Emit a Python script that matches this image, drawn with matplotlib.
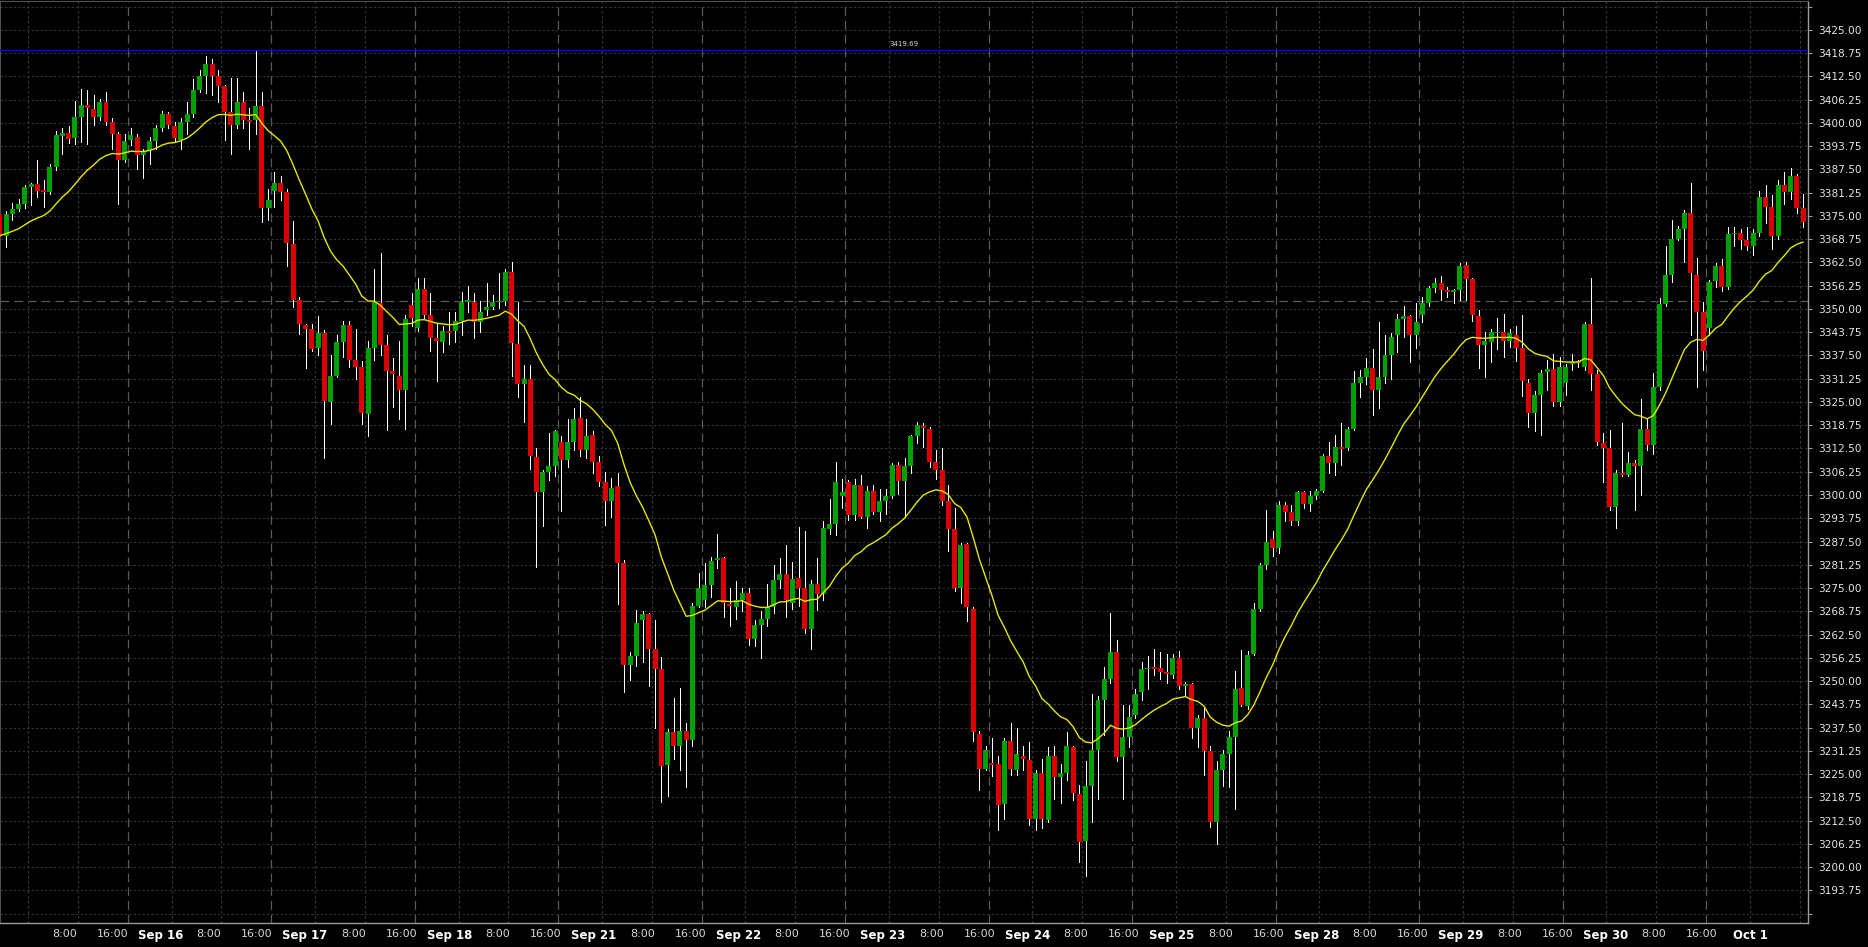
import matplotlib
matplotlib.use("Agg")
import matplotlib.pyplot as plt
import matplotlib.transforms as mtransforms
import numpy as np
import pandas as pd

# hourly bars, one session = 23 bars; first bar is the half-visible one at the left edge
opens = [
    3375.5, 3369.7, 3375.6, 3376.8, 3378.1, 3382.7, 3383.6, 3381.9, 3381.3, 3388.0,
    3396.5, 3397.2, 3396.0, 3401.7, 3404.7, 3403.7, 3401.7, 3405.6, 3400.2, 3397.1,
    3390.1, 3395.5, 3396.3, 3391.4, 3392.5, 3395.1, 3398.6, 3402.5, 3399.1, 3395.5,
    3400.2, 3402.5, 3408.7, 3412.6, 3415.7, 3412.6, 3409.8, 3402.8, 3399.4, 3405.6,
    3400.8, 3400.7, 3404.4, 3377.0, 3381.7, 3383.8, 3381.3, 3367.4, 3352.5, 3345.6,
    3344.5, 3339.5, 3343.4, 3324.9, 3332.0, 3341.1, 3345.6, 3336.3, 3334.4, 3321.8,
    3339.5, 3351.5, 3340.2, 3333.4, 3332.1, 3328.2, 3351.0, 3344.9, 3355.3, 3348.4,
    3342.2, 3341.1, 3344.0, 3344.0, 3346.8, 3351.9, 3351.9, 3346.5, 3349.6, 3350.4,
    3351.8, 3352.1, 3359.9, 3340.6, 3329.8, 3331.3, 3310.2, 3300.9, 3306.1, 3307.7,
    3314.3, 3309.4, 3314.3, 3320.8, 3312.0, 3316.2, 3308.9, 3303.5, 3298.4, 3302.3,
    3281.8, 3254.3, 3256.8, 3266.4, 3267.9, 3258.6, 3253.2, 3227.4, 3236.2, 3232.6,
    3236.5, 3234.3, 3270.2, 3271.8, 3275.7, 3282.5, 3283.1, 3270.7, 3270.0, 3271.8,
    3273.8, 3261.4, 3265.1, 3266.7, 3269.8, 3277.2, 3278.7, 3271.0, 3277.8, 3274.9,
    3264.0, 3276.0, 3273.3, 3290.8, 3292.2, 3299.6, 3303.5, 3294.7, 3302.7, 3294.2,
    3301.2, 3295.5, 3298.5, 3299.6, 3308.1, 3303.8, 3307.8, 3315.9, 3318.5, 3317.7,
    3308.9, 3306.6, 3298.5, 3290.8, 3274.9, 3286.8, 3269.5, 3235.9, 3226.5, 3228.0,
    3227.7, 3216.9, 3233.9, 3226.2, 3230.0, 3228.9, 3213.0, 3225.4, 3212.7, 3230.0,
    3224.3, 3225.4, 3232.3, 3219.7, 3207.1, 3221.8, 3231.6, 3245.0, 3250.6, 3257.9,
    3229.5, 3235.1, 3241.0, 3247.0, 3253.2, 3253.9, 3253.6, 3252.4, 3251.7, 3256.3,
    3248.6, 3249.1, 3237.3, 3240.1, 3231.1, 3212.2, 3226.2, 3230.5, 3235.1, 3248.1,
    3243.2, 3257.4, 3269.5, 3281.1, 3288.3, 3285.7, 3297.3, 3295.5, 3293.0, 3300.7,
    3297.6, 3299.6, 3301.2, 3310.5, 3308.5, 3312.8, 3312.5, 3317.7, 3330.1, 3331.8,
    3334.0, 3328.2, 3331.7, 3337.5, 3342.9, 3347.3, 3348.0, 3342.9, 3348.4, 3351.5,
    3355.6, 3356.9, 3355.0, 3354.5, 3355.0, 3361.8, 3358.0, 3348.0, 3340.3, 3341.1,
    3343.4, 3343.7, 3341.4, 3343.0, 3339.5, 3330.1, 3322.1, 3327.0, 3333.1, 3333.8,
    3324.9, 3330.1, 3335.2, 3336.0, 3334.4, 3346.0, 3332.6, 3314.0, 3312.5, 3296.8,
    3305.8, 3305.4, 3308.5, 3307.7, 3317.7, 3313.5, 3329.0, 3351.2, 3359.2, 3368.8,
    3371.6, 3375.9, 3359.2, 3349.1, 3344.9, 3357.6, 3361.5, 3355.8, 3370.0, 3370.5,
    3368.5, 3366.9, 3370.5, 3380.1, 3377.4, 3369.7, 3383.2, 3381.3, 3385.8, 3377.0,
]
highs = [
    3376.5, 3376.2, 3378.5, 3379.6, 3383.2, 3383.9, 3390.1, 3384.7, 3388.9, 3397.9,
    3398.6, 3399.1, 3405.9, 3409.0, 3408.7, 3407.5, 3406.4, 3408.2, 3401.3, 3397.6,
    3397.1, 3398.6, 3397.1, 3393.1, 3396.3, 3399.4, 3403.3, 3402.8, 3400.2, 3401.3,
    3405.6, 3411.8, 3414.1, 3418.0, 3417.2, 3414.1, 3410.2, 3412.1, 3412.1, 3408.4,
    3404.1, 3419.5, 3408.2, 3382.3, 3386.8, 3385.6, 3382.3, 3373.6, 3353.3, 3346.0,
    3346.0, 3348.1, 3344.3, 3337.5, 3342.9, 3346.8, 3346.8, 3344.5, 3336.0, 3341.4,
    3360.8, 3365.1, 3342.9, 3336.8, 3341.4, 3348.4, 3354.2, 3358.4, 3358.4, 3354.2,
    3346.0, 3345.3, 3349.1, 3349.1, 3354.5, 3356.1, 3354.2, 3352.2, 3356.9, 3353.8,
    3359.6, 3360.7, 3362.6, 3351.8, 3334.9, 3334.9, 3312.5, 3306.6, 3316.6, 3317.4,
    3315.9, 3320.5, 3323.3, 3326.4, 3320.5, 3317.1, 3310.5, 3306.3, 3304.7, 3305.8,
    3282.6, 3257.9, 3269.2, 3268.7, 3268.2, 3266.4, 3256.6, 3237.0, 3245.5, 3248.1,
    3238.8, 3271.0, 3279.1, 3281.8, 3283.4, 3289.6, 3283.4, 3274.9, 3276.9, 3274.9,
    3274.9, 3266.4, 3268.7, 3276.0, 3281.1, 3283.1, 3286.5, 3282.1, 3291.4, 3290.4,
    3277.2, 3283.1, 3293.0, 3298.9, 3308.9, 3304.3, 3303.9, 3304.3, 3305.5, 3302.3,
    3302.7, 3301.6, 3301.6, 3308.5, 3308.9, 3310.0, 3316.2, 3319.7, 3319.4, 3318.2,
    3312.0, 3312.5, 3302.7, 3296.5, 3287.2, 3287.2, 3269.8, 3236.7, 3232.6, 3234.7,
    3230.0, 3234.7, 3238.8, 3237.3, 3232.6, 3233.6, 3226.2, 3229.2, 3232.3, 3232.6,
    3227.7, 3236.2, 3232.6, 3222.2, 3228.5, 3246.6, 3246.0, 3253.7, 3268.2, 3261.0,
    3243.5, 3243.5, 3247.8, 3255.2, 3256.8, 3258.6, 3257.9, 3257.4, 3257.4, 3258.2,
    3249.7, 3249.4, 3240.8, 3242.9, 3232.6, 3228.5, 3231.6, 3236.7, 3252.8, 3258.3,
    3258.2, 3271.0, 3281.8, 3296.1, 3290.4, 3298.5, 3298.1, 3297.3, 3301.2, 3301.2,
    3301.2, 3301.6, 3310.9, 3314.3, 3316.2, 3319.3, 3318.2, 3333.2, 3333.7, 3336.8,
    3339.1, 3346.5, 3342.9, 3343.4, 3348.7, 3350.7, 3348.4, 3351.5, 3353.3, 3356.1,
    3358.4, 3358.9, 3355.8, 3355.3, 3362.3, 3362.6, 3358.4, 3349.6, 3343.7, 3344.5,
    3347.6, 3348.7, 3344.5, 3345.3, 3348.4, 3331.3, 3328.0, 3333.7, 3336.3, 3337.8,
    3337.2, 3335.2, 3337.8, 3336.3, 3346.5, 3358.4, 3333.7, 3316.6, 3317.4, 3306.6,
    3319.4, 3311.5, 3309.4, 3325.9, 3320.5, 3332.9, 3353.0, 3366.9, 3373.9, 3372.3,
    3376.5, 3383.9, 3363.8, 3351.8, 3357.9, 3362.3, 3363.5, 3371.9, 3371.9, 3371.6,
    3371.9, 3371.6, 3381.6, 3383.2, 3380.5, 3384.7, 3386.7, 3387.8, 3386.3, 3380.9,
]
lows = [
    3368.5, 3366.6, 3373.9, 3376.2, 3377.0, 3377.8, 3380.1, 3377.3, 3380.9, 3387.3,
    3391.7, 3394.5, 3394.2, 3394.8, 3394.2, 3399.4, 3400.7, 3399.4, 3392.9, 3378.1,
    3389.4, 3394.0, 3387.5, 3385.2, 3388.9, 3392.9, 3397.9, 3398.6, 3394.8, 3392.9,
    3397.1, 3401.7, 3408.4, 3407.9, 3407.5, 3405.6, 3395.5, 3391.7, 3398.6, 3398.6,
    3392.9, 3397.1, 3373.4, 3373.8, 3377.4, 3379.2, 3361.5, 3350.4, 3343.3, 3334.0,
    3338.8, 3337.5, 3310.0, 3319.0, 3331.8, 3337.2, 3334.4, 3331.3, 3319.0, 3315.9,
    3336.3, 3337.5, 3317.4, 3323.6, 3320.5, 3317.7, 3345.3, 3344.2, 3347.6, 3338.8,
    3330.6, 3338.3, 3340.6, 3341.1, 3342.9, 3349.1, 3342.2, 3343.7, 3348.4, 3349.9,
    3350.2, 3351.1, 3332.1, 3326.4, 3319.7, 3306.9, 3280.6, 3291.7, 3304.0, 3305.0,
    3295.8, 3307.4, 3312.0, 3310.5, 3310.0, 3305.8, 3302.3, 3291.9, 3294.2, 3270.7,
    3247.0, 3250.4, 3254.0, 3255.1, 3248.6, 3237.3, 3217.6, 3219.2, 3229.2, 3226.2,
    3221.5, 3232.6, 3269.8, 3269.8, 3272.6, 3280.3, 3267.1, 3264.8, 3266.7, 3268.7,
    3259.7, 3259.4, 3256.3, 3264.8, 3268.2, 3274.9, 3267.1, 3269.5, 3270.2, 3262.9,
    3258.6, 3269.2, 3271.8, 3289.6, 3289.3, 3296.5, 3293.4, 3293.4, 3293.9, 3291.1,
    3295.0, 3293.0, 3295.0, 3299.2, 3300.4, 3294.2, 3305.8, 3313.9, 3312.8, 3307.4,
    3304.3, 3297.3, 3284.9, 3274.1, 3271.0, 3266.1, 3233.9, 3220.7, 3226.2, 3224.6,
    3209.9, 3213.0, 3224.9, 3224.9, 3226.2, 3211.4, 3209.9, 3210.4, 3212.2, 3218.4,
    3217.2, 3223.4, 3218.1, 3201.4, 3197.5, 3212.2, 3218.4, 3235.4, 3249.4, 3228.5,
    3218.4, 3232.3, 3240.0, 3245.0, 3247.8, 3251.7, 3250.6, 3249.4, 3250.9, 3247.8,
    3246.3, 3234.7, 3232.3, 3224.9, 3210.7, 3206.3, 3221.8, 3221.5, 3215.6, 3243.2,
    3242.4, 3257.1, 3268.7, 3280.0, 3283.7, 3284.5, 3293.0, 3291.9, 3291.9, 3296.5,
    3295.8, 3298.9, 3300.7, 3305.8, 3305.3, 3308.1, 3312.0, 3317.4, 3326.4, 3329.8,
    3321.6, 3323.3, 3330.1, 3331.3, 3338.3, 3342.5, 3335.7, 3339.4, 3346.5, 3350.7,
    3354.5, 3352.5, 3353.3, 3351.5, 3352.5, 3352.5, 3346.8, 3334.0, 3331.7, 3335.7,
    3339.1, 3337.2, 3339.9, 3336.0, 3326.7, 3318.2, 3317.1, 3316.2, 3328.2, 3323.9,
    3323.9, 3327.0, 3333.7, 3334.4, 3333.7, 3328.2, 3313.5, 3303.5, 3296.1, 3291.1,
    3305.0, 3305.0, 3296.1, 3300.1, 3312.0, 3310.9, 3328.2, 3350.7, 3357.3, 3368.5,
    3362.6, 3342.9, 3329.0, 3333.7, 3342.9, 3355.8, 3354.9, 3355.3, 3366.9, 3366.2,
    3365.7, 3364.6, 3369.7, 3373.1, 3366.2, 3368.8, 3378.1, 3379.6, 3375.9, 3371.9,
]
closes = [
    3369.7, 3375.4, 3376.8, 3378.1, 3382.7, 3383.6, 3381.6, 3381.3, 3388.0, 3396.6,
    3397.2, 3395.7, 3401.7, 3404.8, 3404.1, 3401.7, 3405.6, 3400.2, 3397.1, 3390.1,
    3395.1, 3396.6, 3391.4, 3392.5, 3395.1, 3398.6, 3402.5, 3399.4, 3396.0, 3400.2,
    3402.5, 3408.7, 3412.6, 3415.7, 3412.6, 3409.8, 3402.8, 3399.4, 3405.6, 3400.7,
    3400.3, 3404.4, 3377.0, 3379.2, 3383.8, 3381.3, 3367.7, 3352.5, 3346.0, 3344.5,
    3339.1, 3343.4, 3325.2, 3332.0, 3341.1, 3345.6, 3336.3, 3334.4, 3322.1, 3339.5,
    3351.8, 3340.2, 3333.4, 3332.4, 3328.2, 3347.3, 3347.6, 3355.3, 3348.4, 3342.2,
    3341.4, 3344.2, 3343.6, 3346.8, 3351.9, 3352.4, 3346.5, 3349.3, 3350.4, 3351.8,
    3352.1, 3359.9, 3340.9, 3329.8, 3331.3, 3310.5, 3300.9, 3306.1, 3307.7, 3317.1,
    3309.4, 3314.3, 3320.5, 3312.0, 3315.9, 3308.9, 3303.5, 3298.4, 3301.9, 3281.8,
    3254.3, 3256.8, 3265.6, 3267.9, 3258.6, 3253.2, 3227.2, 3236.2, 3232.6, 3236.5,
    3234.3, 3270.2, 3274.9, 3275.7, 3282.2, 3283.2, 3271.0, 3270.2, 3271.8, 3273.8,
    3261.4, 3265.1, 3266.7, 3269.8, 3277.2, 3278.7, 3271.8, 3277.5, 3274.9, 3264.0,
    3276.1, 3273.3, 3291.1, 3292.2, 3303.5, 3300.7, 3294.7, 3302.7, 3294.2, 3301.2,
    3295.5, 3298.5, 3299.6, 3308.1, 3303.8, 3307.8, 3315.9, 3318.9, 3317.9, 3308.9,
    3306.6, 3298.5, 3290.8, 3274.9, 3286.5, 3269.8, 3236.2, 3226.5, 3231.6, 3227.4,
    3216.6, 3233.9, 3226.5, 3230.5, 3229.2, 3213.0, 3225.4, 3213.0, 3230.0, 3224.3,
    3225.4, 3232.6, 3220.0, 3206.8, 3221.8, 3231.6, 3245.0, 3250.6, 3257.9, 3229.5,
    3235.1, 3240.4, 3246.6, 3253.2, 3253.5, 3253.2, 3252.4, 3252.0, 3256.3, 3248.6,
    3249.1, 3237.3, 3240.1, 3231.1, 3212.2, 3226.2, 3230.5, 3235.1, 3247.8, 3243.5,
    3257.1, 3269.5, 3281.1, 3287.3, 3285.7, 3297.3, 3295.5, 3293.0, 3300.7, 3297.6,
    3299.6, 3301.2, 3310.5, 3308.5, 3312.8, 3312.3, 3317.7, 3330.1, 3331.8, 3334.0,
    3328.2, 3331.7, 3337.5, 3342.5, 3347.3, 3348.0, 3342.9, 3346.5, 3351.5, 3355.6,
    3356.9, 3355.0, 3354.5, 3355.0, 3361.5, 3358.0, 3348.4, 3340.2, 3341.4, 3343.7,
    3343.7, 3341.4, 3343.4, 3339.5, 3330.6, 3322.1, 3327.0, 3332.9, 3333.8, 3324.9,
    3334.4, 3334.4, 3335.7, 3335.4, 3346.0, 3332.6, 3314.3, 3312.5, 3296.8, 3305.8,
    3305.4, 3308.5, 3307.7, 3317.7, 3313.5, 3329.0, 3351.2, 3359.2, 3368.8, 3371.6,
    3375.9, 3359.6, 3349.1, 3338.8, 3357.3, 3361.5, 3355.8, 3370.0, 3370.5, 3368.5,
    3366.9, 3370.5, 3380.1, 3377.4, 3369.7, 3383.2, 3381.3, 3385.8, 3377.0, 3373.4,
]

session_days = ["Sep 16", "Sep 17", "Sep 18", "Sep 21", "Sep 22", "Sep 23",
                "Sep 24", "Sep 25", "Sep 28", "Sep 29", "Sep 30", "Oct 1"]
hour_labels = ["8:00", "16:00"]

last_price = 3419.69
session_level = 3352.0
ma_span = 20

BARS_PER_DAY = 23
BG = "#000000"
UP = "#00a000"
DOWN = "#dc0000"

o = np.array(opens)
h = np.array(highs)
l = np.array(lows)
c = np.array(closes)
x = np.arange(len(o)) - 1
ma = pd.Series(closes).ewm(span=ma_span, adjust=False).mean()

fig = plt.figure(figsize=(18.68, 9.47), dpi=100, facecolor=BG)
ax = fig.add_axes([0.0, 24 / 947, 1808 / 1868, 922.5 / 947])
ax.set_facecolor(BG)
ax.set_xlim(-0.99, 288.8)
ax.set_ylim(3185.0, 3432.87)

# grid
for lvl in np.arange(3187.5, 3432.0, 6.25):
    ax.axhline(lvl, color="#353535", lw=0.8, ls=(0, (2, 2)), zorder=0)
ax.axhline(session_level, color="#595959", lw=0.9, ls=(0, (7, 4)), zorder=0)
for d in range(13):
    midnight = 3.5 + BARS_PER_DAY * d
    for off, style, col in [(0, (0, (2, 2)), "#353535"),
                            (8, (0, (2, 2)), "#353535"),
                            (16, (0, (7, 4)), "#595959")]:
        pos = midnight + off
        if pos < 288.8:
            ax.axvline(pos, color=col, lw=0.9, ls=style, zorder=0)

# candles
up = c >= o
body_col = np.where(up, UP, DOWN)
ax.vlines(x, l, h, color="white", lw=0.5, antialiased=False, zorder=2)
ax.bar(x, np.maximum(np.abs(c - o), 0.3), bottom=np.minimum(o, c), width=0.8,
       color=body_col, linewidth=0, antialiased=False, zorder=3)

ax.plot(x, ma, color="#e6e600", lw=1.0, zorder=4)

# last price line
ax.axhline(last_price, color="#0000ff", lw=1.0, zorder=5)
trans = mtransforms.blended_transform_factory(ax.transAxes, ax.transData)
ax.text(0.5, last_price + 0.7, f"{last_price:.2f}", transform=trans,
        ha="center", va="bottom", fontsize=5, color="#d8d8d8")

# y axis on the right
yt = np.arange(3187.5, 3432.0, 6.25)
ax.yaxis.tick_right()
ax.set_yticks(yt)
ax.set_yticklabels([f"{v:.2f}" if 3190 < v < 3428 else "" for v in yt])
ax.tick_params(axis="y", colors="#9a9a9a", labelcolor="#e6e6e6", length=3,
               width=0.8, pad=4, labelsize=7.6)

# x axis labels
labels = list(hour_labels)
for day in session_days:
    labels += [day] + hour_labels
labels = labels[:-2]
ax.set_xticks(np.linspace(9.3, 279.5, len(labels)))
ax.set_xticklabels(labels)
ax.tick_params(axis="x", length=0, pad=4.5, labelsize=8, labelcolor="#d8d8d8")
for t in ax.get_xticklabels():
    if t.get_text() in session_days:
        t.set_fontweight("bold")
        t.set_color("white")
        t.set_fontsize(8.5)

for side in ["left", "top"]:
    ax.spines[side].set_color("#505050")
for side in ["right", "bottom"]:
    ax.spines[side].set_color("#9a9a9a")
    ax.spines[side].set_linewidth(1.0)

fig.savefig("out.png", dpi=100, facecolor=BG)
